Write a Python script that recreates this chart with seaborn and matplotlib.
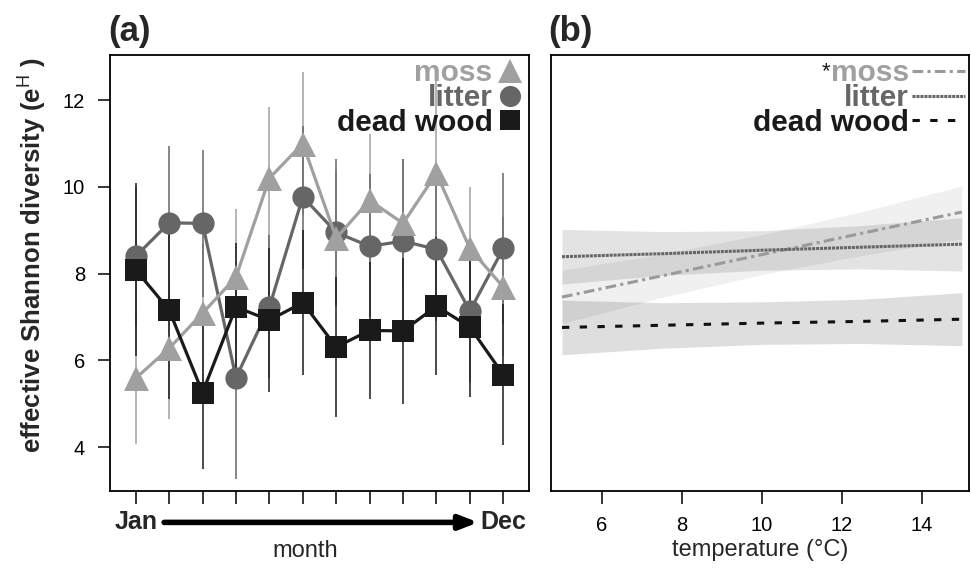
import numpy as np
import pandas as pd
import matplotlib
matplotlib.use("Agg")
import matplotlib.pyplot as plt
import matplotlib.transforms as mtransforms
import seaborn as sns
from matplotlib.lines import Line2D

# panel (a): monthly effective Shannon diversity (mean and error range)
months = list(range(1, 13))
substrates = ["moss", "litter", "dead wood"]

moss_mean = [5.59, 6.28, 7.09, 7.92, 10.20, 11.00, 8.82, 9.69, 9.16, 10.31, 8.58, 7.69]
moss_lo = [4.08, 4.66, 5.50, 6.34, 8.55, 9.35, 7.30, 8.15, 7.67, 8.20, 7.16, 6.10]
moss_hi = [7.10, 7.90, 8.70, 9.50, 11.85, 12.65, 10.35, 11.23, 10.65, 12.50, 10.00, 9.30]

litter_mean = [8.40, 9.17, 9.16, 5.60, 7.23, 9.77, 8.95, 8.63, 8.75, 8.56, 7.14, 8.58]
litter_lo = [6.80, 7.39, 7.47, 3.27, 5.60, 8.10, 7.25, 7.00, 6.85, 6.90, 5.50, 6.85]
litter_hi = [10.00, 10.95, 10.85, 7.93, 8.90, 11.40, 10.65, 10.30, 10.65, 10.20, 8.80, 10.31]

dead_mean = [8.09, 7.16, 5.26, 7.23, 6.93, 7.33, 6.31, 6.69, 6.68, 7.25, 6.77, 5.67]
dead_lo = [6.10, 5.10, 3.50, 5.80, 5.27, 5.66, 4.69, 5.12, 5.00, 5.66, 5.16, 4.04]
dead_hi = [10.08, 9.20, 7.02, 8.70, 8.59, 9.00, 7.93, 8.26, 8.36, 8.84, 8.38, 7.30]

# panel (b): fitted diversity against temperature with confidence bands
temps = [5, 7.5, 10, 12.5, 15]
moss_fit = [7.46, 7.95, 8.44, 8.93, 9.42]
moss_band_lo = [6.85, 7.45, 7.98, 8.42, 8.80]
moss_band_hi = [8.08, 8.45, 8.90, 9.43, 10.02]
litter_fit = [8.39, 8.46, 8.54, 8.61, 8.68]
litter_band_lo = [7.76, 7.96, 8.08, 8.11, 8.06]
litter_band_hi = [9.02, 8.97, 8.99, 9.11, 9.29]
dead_fit = [6.76, 6.81, 6.86, 6.90, 6.95]
dead_band_lo = [6.13, 6.28, 6.37, 6.39, 6.34]
dead_band_hi = [7.39, 7.33, 7.35, 7.41, 7.56]

colors = {"moss": "#a0a0a0", "litter": "#666666", "dead wood": "#1a1a1a"}
line_colors = {"moss": "#9a9a9a", "litter": "#666666", "dead wood": "#111111"}
markers = {"moss": "^", "litter": "o", "dead wood": "s"}
msizes = {"moss": 18, "litter": 16, "dead wood": 15.5}
dashes = {"moss": (3.5, 1.4, 1, 1.4), "litter": (1, 0.3), "dead wood": (2.4, 3.4)}
band_alpha = {"moss": 0.06, "litter": 0.11, "dead wood": 0.13}

df_a = pd.DataFrame({
    "month": months * 3,
    "substrate": np.repeat(substrates, 12),
    "diversity": moss_mean + litter_mean + dead_mean,
    "lo": moss_lo + litter_lo + dead_lo,
    "hi": moss_hi + litter_hi + dead_hi,
})
df_b = pd.DataFrame({
    "temperature": temps * 3,
    "substrate": np.repeat(substrates, len(temps)),
    "fit": moss_fit + litter_fit + dead_fit,
    "lo": moss_band_lo + litter_band_lo + dead_band_lo,
    "hi": moss_band_hi + litter_band_hi + dead_band_hi,
})

sns.set_theme(style="ticks")
plt.rcParams["font.family"] = ["Liberation Sans", "DejaVu Sans"]
plt.rcParams["mathtext.fontset"] = "custom"
plt.rcParams["mathtext.rm"] = "Liberation Sans"
plt.rcParams["mathtext.bf"] = "Liberation Sans:bold"

fig = plt.figure(figsize=(9.71, 5.71), dpi=100)
ax1 = fig.add_axes([110 / 971, 1 - 491 / 571, 419 / 971, 436 / 571])
ax2 = fig.add_axes([551 / 971, 1 - 491 / 571, 418 / 971, 436 / 571])

# --- (a) ---
for s in substrates:
    d = df_a[df_a.substrate == s]
    ax1.vlines(d.month, d.lo, d.hi, color=colors[s], lw=1.1, zorder=1)

sns.lineplot(data=df_a, x="month", y="diversity", hue="substrate", style="substrate",
             hue_order=["litter", "moss", "dead wood"], style_order=["litter", "moss", "dead wood"],
             palette=colors, markers=markers, dashes=False, lw=2.3, markersize=16,
             markeredgewidth=0, errorbar=None, legend=False, ax=ax1, zorder=3)
for ln in ax1.lines:
    if ln.get_marker() == "^":
        ln.set_markersize(msizes["moss"])
    elif ln.get_marker() == "s":
        ln.set_markersize(msizes["dead wood"])

ax1.set_xlim(0.23, 12.77)
ax1.set_ylim(2.99, 13.04)
ax1.set_yticks([4, 6, 8, 10, 12])
ax1.set_xticks(months)
ax1.set_xticklabels([""] * 12)
ax1.set_xlabel("")
ax1.set_ylabel("")

blend1 = mtransforms.blended_transform_factory(ax1.transData, ax1.transAxes)
ax1.text(months[0], -0.072, "Jan", transform=blend1, ha="center", va="center",
         fontsize=18, fontweight="bold")
ax1.text(months[-1], -0.072, "Dec", transform=blend1, ha="center", va="center",
         fontsize=18, fontweight="bold")
ax1.annotate("", xy=(11.25, -0.072), xytext=(1.85, -0.072), xycoords=blend1,
             textcoords=blend1, annotation_clip=False,
             arrowprops=dict(arrowstyle="-|>,head_length=0.9,head_width=0.35",
                             lw=4, color="black", shrinkA=0, shrinkB=0))
ax1.text(0.465, -0.138, "month", transform=ax1.transAxes, ha="center", va="center",
         fontsize=17)

handles_a = [Line2D([], [], ls="none", marker=markers[s], color=colors[s],
                    markersize=msizes[s] * 0.95, markeredgewidth=0) for s in substrates]
leg1 = ax1.legend(handles_a, substrates, loc="upper right", bbox_to_anchor=(1.0, 1.0),
                  markerfirst=False, frameon=False, prop=dict(weight="bold", size=21.5),
                  labelcolor=[colors[s] for s in substrates], handlelength=0.95,
                  handletextpad=0.12, labelspacing=-0.11, borderaxespad=0.1, borderpad=0.05)

# --- (b) ---
for s in substrates:
    d = df_b[df_b.substrate == s]
    ax2.fill_between(d.temperature, d.lo, d.hi, color="black", alpha=band_alpha[s],
                     lw=0, zorder=1)

sns.lineplot(data=df_b, x="temperature", y="fit", hue="substrate", style="substrate",
             palette=line_colors, dashes=dashes, lw=2.2, errorbar=None, legend=False,
             ax=ax2, zorder=3)
for ln in ax2.lines:
    ln.set_dash_capstyle("butt")

ax2.set_xlim(4.725, 15.18)
ax2.set_ylim(2.99, 13.04)
ax2.set_xticks([6, 8, 10, 12, 14])
ax2.set_yticks([])
ax2.set_ylabel("")
ax2.set_xlabel("temperature (°C)", fontsize=17, labelpad=3)

handles_b = [Line2D([], [], color=line_colors[s], lw=2.2, dashes=dashes[s],
                    dash_capstyle="butt") for s in substrates]
leg2 = ax2.legend(handles_b, substrates, loc="upper right", bbox_to_anchor=(1.0, 1.0),
                  markerfirst=False, frameon=False, prop=dict(weight="bold", size=21.5),
                  labelcolor=[colors[s] for s in substrates], handlelength=1.75,
                  handletextpad=0.12, labelspacing=-0.11, borderaxespad=0.1, borderpad=0.05)
ax2.annotate("*", xy=(0, 0.55), xycoords=leg2.get_texts()[0], ha="right", va="center",
             fontsize=16, color="#1a1a1a", zorder=10)

for ax in (ax1, ax2):
    for sp in ax.spines.values():
        sp.set_visible(True)
        sp.set_color("black")
        sp.set_linewidth(1.3)
    ax.tick_params(direction="out", length=9, width=1.1, color="black",
                   labelsize=14.5, pad=9, labelcolor="black")
    ax.set_facecolor("white")

fig.text(32 / 971, 1 - 255 / 571, r"effective Shannon diversity (e$^{\mathrm{H}}$ )",
         rotation=90, ha="center", va="center", fontsize=18.5, fontweight="bold")
fig.text(108 / 971, 1 - 31 / 571, "(a)", ha="left", va="center", fontsize=25,
         fontweight="bold")
fig.text(548 / 971, 1 - 31 / 571, "(b)", ha="left", va="center", fontsize=25,
         fontweight="bold")

fig.savefig("out.png", dpi=100, facecolor="white")
